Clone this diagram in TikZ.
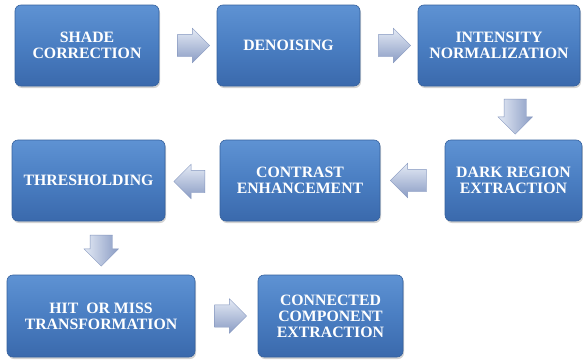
\documentclass[tikz,border=0pt]{standalone}
\usepackage{fontspec}
\setmainfont{Liberation Serif}
\newfontfamily\boxfont{Liberation Serif}
\usetikzlibrary{shapes.arrows,shadows,calc}
\definecolor{boxtop}{HTML}{5E92D3}
\definecolor{boxmid}{HTML}{4A7EC2}
\definecolor{boxbot}{HTML}{3A69AC}
\definecolor{boxedge}{HTML}{35619E}
\definecolor{arrtop}{HTML}{E4EAF5}
\definecolor{arrbot}{HTML}{8A9CC4}
\definecolor{arredge}{HTML}{8597BF}
\begin{document}
\begin{tikzpicture}[x=1pt,y=-1pt,
  box/.style={rectangle, rounded corners=6pt, draw=boxedge, line width=0.6pt,
    top color=boxtop, bottom color=boxbot, middle color=boxmid,
    minimum height=81pt, inner sep=2pt, align=center, text=white,
    font=\boxfont\bfseries\fontsize{15.8}{16}\selectfont,
    drop shadow={opacity=0.35, shadow xshift=1pt, shadow yshift=-2pt}},
  blockarrow/.style={single arrow, draw=arredge, line width=0.4pt,
    top color=arrtop, bottom color=arrbot,
    minimum height=32pt, single arrow head extend=6pt,
    single arrow head indent=0pt, inner xsep=0pt, inner ysep=11pt},
  downarrow/.style={blockarrow, shape border rotate=270,
    left color=arrtop, right color=arrbot, inner xsep=11pt, inner ysep=0pt}]
\useasboundingbox (0,0) rectangle (583,359);
\fill[white] (0,0) rectangle (583,359);

\node[box, minimum width=144pt] (A) at (87,45.5) {SHADE\\CORRECTION};
\node[box, minimum width=143pt] (B) at (288.5,45.5) {DENOISING};
\node[box, minimum width=162pt] (C) at (499,45.5) {INTENSITY\\NORMALIZATION};
\node[box, minimum width=137pt] (D) at (513.5,180.5) {DARK REGION\\EXTRACTION};
\node[box, minimum width=160pt] (E) at (300,180.5) {CONTRAST\\ENHANCEMENT};
\node[box, minimum width=153pt] (F) at (88.5,180.5) {THRESHOLDING};
\node[box, minimum width=188pt, minimum height=82pt] (G) at (101,316) {HIT\ \ OR MISS\\TRANSFORMATION};
\node[box, minimum width=145pt, minimum height=82pt] (H) at (330.5,316) {CONNECTED\\COMPONENT\\EXTRACTION};

\node[blockarrow, shape border rotate=0] (a1) at ($(A.east)!0.5!(B.west)$) {};
\node[blockarrow, shape border rotate=0] (a2) at ($(B.east)!0.5!(C.west)$) {};
\node[downarrow, minimum height=35pt] (a3) at ($(C.south)!0.5!(D.north)+(9,-2)$) {};
\node[blockarrow, shape border rotate=180, minimum height=36pt] (a4) at ($(D.west)!0.5!(E.east)+(1.5,0)$) {};
\node[blockarrow, shape border rotate=180, minimum height=31pt] (a5) at ($(E.west)!0.5!(F.east)+(2.5,1)$) {};
\node[downarrow, minimum height=31pt] (a6) at ($(F.south)!0.5!(G.north)+(6.5,-3)$) {};
\node[blockarrow, shape border rotate=0] (a7) at ($(G.east)!0.5!(H.west)+(-1.5,0)$) {};
\end{tikzpicture}
\end{document}
